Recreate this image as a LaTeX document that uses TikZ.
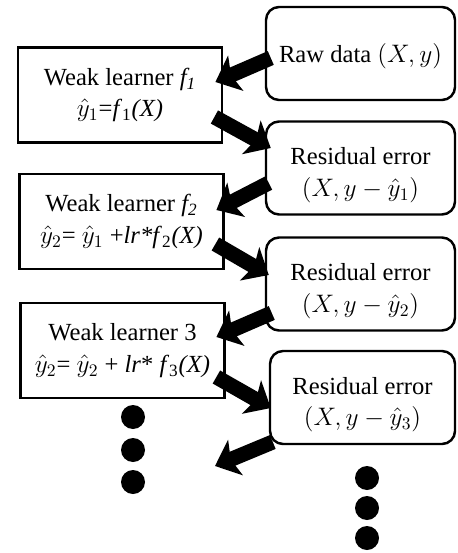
\documentclass[tikz,border=0pt]{standalone}
\usepackage{fontspec}
\setmainfont{Liberation Serif}
\usetikzlibrary{arrows.meta}

\newcommand{\rstrut}{\rule{0pt}{18pt}}

\tikzset{
  learner/.style={draw, line width=1.6pt, minimum width=4.08cm, minimum height=1.9cm, align=center, inner sep=0pt},
  residual/.style={draw, line width=1.4pt, rounded corners=0.26cm, minimum width=3.78cm, minimum height=1.86cm, align=center, inner sep=0pt},
  bigarrow/.style={line width=0.3cm, -{Stealth[length=0.44cm, width=0.76cm, inset=0.1cm]}},
  bigdot/.style={circle, fill, inner sep=0pt, minimum size=0.48cm}
}

\begin{document}
\begin{tikzpicture}[font=\fontsize{14}{18}\selectfont]
\useasboundingbox (0,0) rectangle (9.14,-11.06);
%\draw[help lines, color=gray!30, thick] (0,-11) grid (9,0);
\node [residual] (raw) at (7.21,-1.07) {\rule{0pt}{14pt}Raw data $(X,y)$};
\node [learner] (wl1) at (2.40,-1.90) {Weak learner \textit{f\textsubscript{1}}\\$\hat{y}_1$=\textit{f}\textsubscript{1}\textit{(X)}};
\node [residual] (res1) at (7.21,-3.36) {\rstrut Residual error\\$(X,y-\hat{y}_1)$};
\node [learner] (wl2) at (2.43,-4.43) {Weak learner \textit{f\textsubscript{2}}\\$\hat{y}_2$= $\hat{y}_1$ +\textit{lr*f}\textsubscript{2}\textit{(X)}};
\node [residual] (res2) at (7.21,-5.68) {\rstrut Residual error\\$(X,y-\hat{y}_2)$};
\node [learner] (wl3) at (2.45,-7.01) {Weak learner 3\\$\hat{y}_2$= $\hat{y}_2$ + \textit{lr}* \textit{f}\textsubscript{3}\textit{(X)}};
\node [residual, minimum width=3.70cm] (res3) at (7.25,-7.95) {\rstrut Residual error\\$(X,y-\hat{y}_3)$};
\coordinate (more) at (4.30,-9.32);

\draw [bigarrow] ([shift={(0.12,-0.09)}]raw.west) -- ([shift={(-0.16,0.26)}]wl1.east);
\draw [bigarrow] ([shift={(-0.18,-0.44)}]wl1.east) -- ([shift={(0.12,0.40)}]res1.west);
\draw [bigarrow] ([shift={(0.08,-0.30)}]res1.west) -- ([shift={(-0.17,0.23)}]wl2.east);
\draw [bigarrow] ([shift={(-0.19,-0.45)}]wl2.east) -- ([shift={(0.08,0.18)}]res2.west);
\draw [bigarrow] ([shift={(0.14,-0.58)}]res2.west) -- ([shift={(-0.19,0.27)}]wl3.east);
\draw [bigarrow] ([shift={(-0.19,-0.53)}]wl3.east) -- ([shift={(0.04,-0.21)}]res3.west);
\draw [bigarrow] ([shift={(0.08,-0.89)}]res3.west) -- (more);

\node [bigdot] (ldot1) at (2.66,-8.34) {};
\node [bigdot] (ldot2) at (2.66,-9.00) {};
\node [bigdot] (ldot3) at (2.66,-9.64) {};
\node [bigdot] (rdot1) at (7.34,-9.56) {};
\node [bigdot] (rdot2) at (7.34,-10.16) {};
\node [bigdot] (rdot3) at (7.34,-10.76) {};
\end{tikzpicture}
\end{document}
